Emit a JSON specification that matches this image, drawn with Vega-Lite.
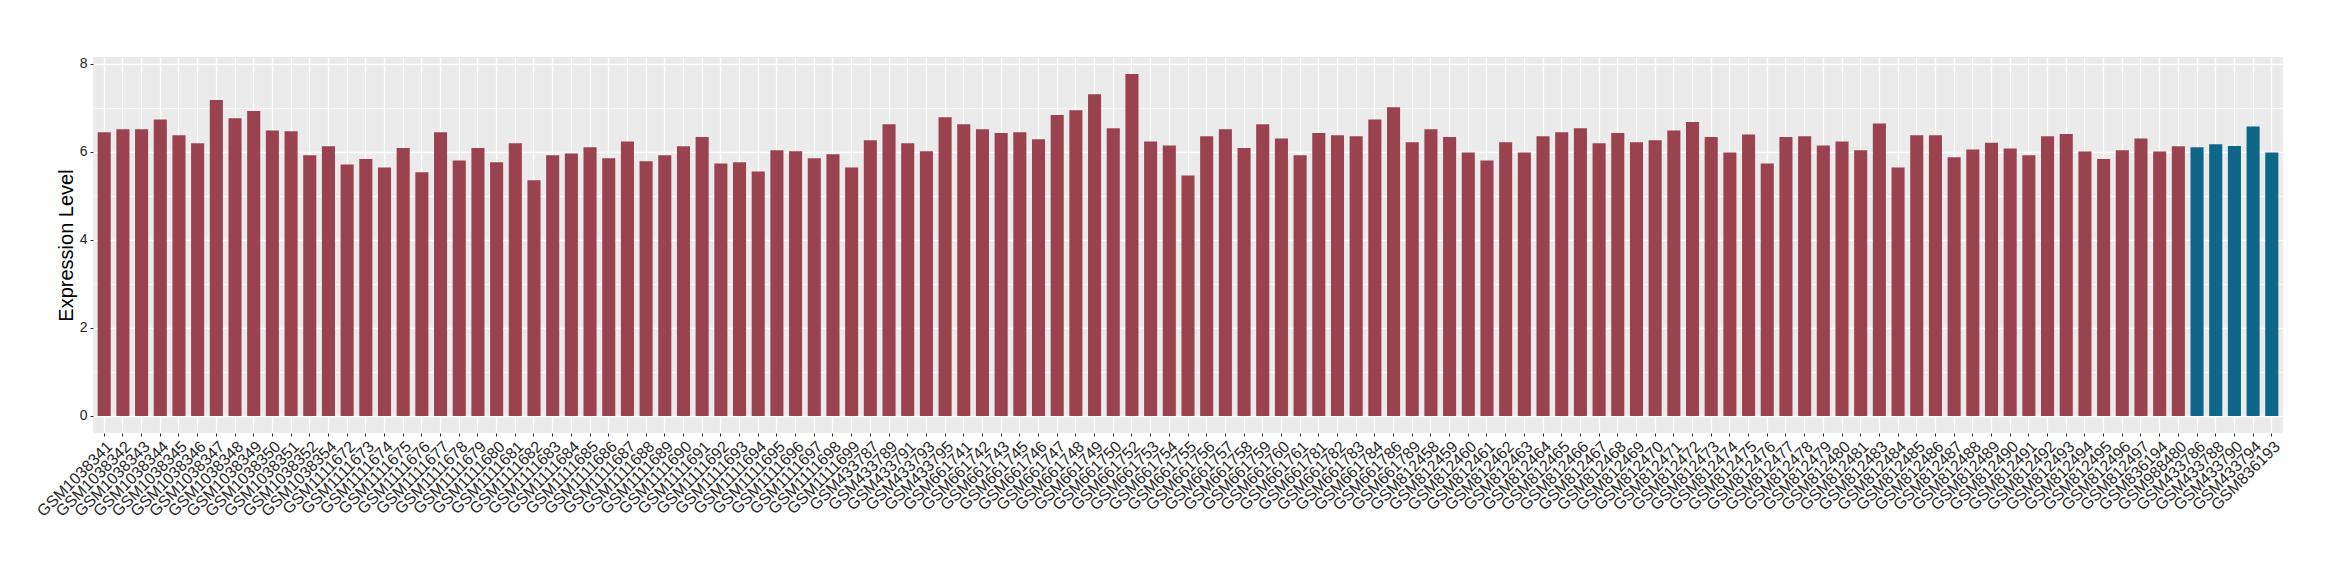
{
  "$schema": "https://vega.github.io/schema/vega-lite/v6.json",
  "autosize": {"type": "none"},
  "padding": {"left": 93, "top": 57, "right": 57, "bottom": 147},
  "width": 2190,
  "height": 376,
  "background": "white",
  "config": {
    "view": {"fill": "#EBEBEB", "stroke": null},
    "font": "Liberation Sans"
  },
  "data": {
    "values": [
      {"sample": "GSM1038341", "value": 6.44, "group": "Group 1"},
      {"sample": "GSM1038342", "value": 6.51, "group": "Group 1"},
      {"sample": "GSM1038343", "value": 6.51, "group": "Group 1"},
      {"sample": "GSM1038344", "value": 6.73, "group": "Group 1"},
      {"sample": "GSM1038345", "value": 6.37, "group": "Group 1"},
      {"sample": "GSM1038346", "value": 6.19, "group": "Group 1"},
      {"sample": "GSM1038347", "value": 7.17, "group": "Group 1"},
      {"sample": "GSM1038348", "value": 6.76, "group": "Group 1"},
      {"sample": "GSM1038349", "value": 6.92, "group": "Group 1"},
      {"sample": "GSM1038350", "value": 6.48, "group": "Group 1"},
      {"sample": "GSM1038351", "value": 6.46, "group": "Group 1"},
      {"sample": "GSM1038352", "value": 5.92, "group": "Group 1"},
      {"sample": "GSM1038354", "value": 6.12, "group": "Group 1"},
      {"sample": "GSM1111672", "value": 5.71, "group": "Group 1"},
      {"sample": "GSM1111673", "value": 5.83, "group": "Group 1"},
      {"sample": "GSM1111674", "value": 5.64, "group": "Group 1"},
      {"sample": "GSM1111675", "value": 6.08, "group": "Group 1"},
      {"sample": "GSM1111676", "value": 5.53, "group": "Group 1"},
      {"sample": "GSM1111677", "value": 6.44, "group": "Group 1"},
      {"sample": "GSM1111678", "value": 5.80, "group": "Group 1"},
      {"sample": "GSM1111679", "value": 6.08, "group": "Group 1"},
      {"sample": "GSM1111680", "value": 5.76, "group": "Group 1"},
      {"sample": "GSM1111681", "value": 6.19, "group": "Group 1"},
      {"sample": "GSM1111682", "value": 5.35, "group": "Group 1"},
      {"sample": "GSM1111683", "value": 5.92, "group": "Group 1"},
      {"sample": "GSM1111684", "value": 5.96, "group": "Group 1"},
      {"sample": "GSM1111685", "value": 6.10, "group": "Group 1"},
      {"sample": "GSM1111686", "value": 5.85, "group": "Group 1"},
      {"sample": "GSM1111687", "value": 6.23, "group": "Group 1"},
      {"sample": "GSM1111688", "value": 5.78, "group": "Group 1"},
      {"sample": "GSM1111689", "value": 5.92, "group": "Group 1"},
      {"sample": "GSM1111690", "value": 6.12, "group": "Group 1"},
      {"sample": "GSM1111691", "value": 6.33, "group": "Group 1"},
      {"sample": "GSM1111692", "value": 5.73, "group": "Group 1"},
      {"sample": "GSM1111693", "value": 5.76, "group": "Group 1"},
      {"sample": "GSM1111694", "value": 5.55, "group": "Group 1"},
      {"sample": "GSM1111695", "value": 6.03, "group": "Group 1"},
      {"sample": "GSM1111696", "value": 6.01, "group": "Group 1"},
      {"sample": "GSM1111697", "value": 5.85, "group": "Group 1"},
      {"sample": "GSM1111698", "value": 5.94, "group": "Group 1"},
      {"sample": "GSM1111699", "value": 5.64, "group": "Group 1"},
      {"sample": "GSM433787", "value": 6.26, "group": "Group 1"},
      {"sample": "GSM433789", "value": 6.62, "group": "Group 1"},
      {"sample": "GSM433791", "value": 6.19, "group": "Group 1"},
      {"sample": "GSM433793", "value": 6.01, "group": "Group 1"},
      {"sample": "GSM433795", "value": 6.78, "group": "Group 1"},
      {"sample": "GSM661741", "value": 6.62, "group": "Group 1"},
      {"sample": "GSM661742", "value": 6.51, "group": "Group 1"},
      {"sample": "GSM661743", "value": 6.42, "group": "Group 1"},
      {"sample": "GSM661745", "value": 6.44, "group": "Group 1"},
      {"sample": "GSM661746", "value": 6.28, "group": "Group 1"},
      {"sample": "GSM661747", "value": 6.83, "group": "Group 1"},
      {"sample": "GSM661748", "value": 6.94, "group": "Group 1"},
      {"sample": "GSM661749", "value": 7.30, "group": "Group 1"},
      {"sample": "GSM661750", "value": 6.53, "group": "Group 1"},
      {"sample": "GSM661752", "value": 7.76, "group": "Group 1"},
      {"sample": "GSM661753", "value": 6.23, "group": "Group 1"},
      {"sample": "GSM661754", "value": 6.14, "group": "Group 1"},
      {"sample": "GSM661755", "value": 5.46, "group": "Group 1"},
      {"sample": "GSM661756", "value": 6.35, "group": "Group 1"},
      {"sample": "GSM661757", "value": 6.51, "group": "Group 1"},
      {"sample": "GSM661758", "value": 6.08, "group": "Group 1"},
      {"sample": "GSM661759", "value": 6.62, "group": "Group 1"},
      {"sample": "GSM661760", "value": 6.30, "group": "Group 1"},
      {"sample": "GSM661761", "value": 5.92, "group": "Group 1"},
      {"sample": "GSM661781", "value": 6.42, "group": "Group 1"},
      {"sample": "GSM661782", "value": 6.37, "group": "Group 1"},
      {"sample": "GSM661783", "value": 6.35, "group": "Group 1"},
      {"sample": "GSM661784", "value": 6.73, "group": "Group 1"},
      {"sample": "GSM661786", "value": 7.01, "group": "Group 1"},
      {"sample": "GSM661789", "value": 6.21, "group": "Group 1"},
      {"sample": "GSM812458", "value": 6.51, "group": "Group 1"},
      {"sample": "GSM812459", "value": 6.33, "group": "Group 1"},
      {"sample": "GSM812460", "value": 5.98, "group": "Group 1"},
      {"sample": "GSM812461", "value": 5.80, "group": "Group 1"},
      {"sample": "GSM812462", "value": 6.21, "group": "Group 1"},
      {"sample": "GSM812463", "value": 5.98, "group": "Group 1"},
      {"sample": "GSM812464", "value": 6.35, "group": "Group 1"},
      {"sample": "GSM812465", "value": 6.44, "group": "Group 1"},
      {"sample": "GSM812466", "value": 6.53, "group": "Group 1"},
      {"sample": "GSM812467", "value": 6.19, "group": "Group 1"},
      {"sample": "GSM812468", "value": 6.42, "group": "Group 1"},
      {"sample": "GSM812469", "value": 6.21, "group": "Group 1"},
      {"sample": "GSM812470", "value": 6.26, "group": "Group 1"},
      {"sample": "GSM812471", "value": 6.48, "group": "Group 1"},
      {"sample": "GSM812472", "value": 6.67, "group": "Group 1"},
      {"sample": "GSM812473", "value": 6.33, "group": "Group 1"},
      {"sample": "GSM812474", "value": 5.98, "group": "Group 1"},
      {"sample": "GSM812475", "value": 6.39, "group": "Group 1"},
      {"sample": "GSM812476", "value": 5.73, "group": "Group 1"},
      {"sample": "GSM812477", "value": 6.33, "group": "Group 1"},
      {"sample": "GSM812478", "value": 6.35, "group": "Group 1"},
      {"sample": "GSM812479", "value": 6.14, "group": "Group 1"},
      {"sample": "GSM812480", "value": 6.23, "group": "Group 1"},
      {"sample": "GSM812481", "value": 6.03, "group": "Group 1"},
      {"sample": "GSM812483", "value": 6.64, "group": "Group 1"},
      {"sample": "GSM812484", "value": 5.64, "group": "Group 1"},
      {"sample": "GSM812485", "value": 6.37, "group": "Group 1"},
      {"sample": "GSM812486", "value": 6.37, "group": "Group 1"},
      {"sample": "GSM812487", "value": 5.87, "group": "Group 1"},
      {"sample": "GSM812488", "value": 6.05, "group": "Group 1"},
      {"sample": "GSM812489", "value": 6.20, "group": "Group 1"},
      {"sample": "GSM812490", "value": 6.07, "group": "Group 1"},
      {"sample": "GSM812491", "value": 5.92, "group": "Group 1"},
      {"sample": "GSM812492", "value": 6.35, "group": "Group 1"},
      {"sample": "GSM812493", "value": 6.40, "group": "Group 1"},
      {"sample": "GSM812494", "value": 6.00, "group": "Group 1"},
      {"sample": "GSM812495", "value": 5.83, "group": "Group 1"},
      {"sample": "GSM812496", "value": 6.03, "group": "Group 1"},
      {"sample": "GSM812497", "value": 6.30, "group": "Group 1"},
      {"sample": "GSM836194", "value": 6.00, "group": "Group 1"},
      {"sample": "GSM988480", "value": 6.12, "group": "Group 1"},
      {"sample": "GSM433786", "value": 6.10, "group": "Group 2"},
      {"sample": "GSM433788", "value": 6.17, "group": "Group 2"},
      {"sample": "GSM433790", "value": 6.13, "group": "Group 2"},
      {"sample": "GSM433794", "value": 6.57, "group": "Group 2"},
      {"sample": "GSM836193", "value": 5.98, "group": "Group 2"}
    ]
  },
  "mark": {"type": "bar"},
  "encoding": {
    "x": {
      "field": "sample",
      "type": "nominal",
      "sort": null,
      "scale": {"paddingInner": 0.3, "paddingOuter": 0.25},
      "axis": {
        "title": null,
        "domain": false,
        "grid": true,
        "gridColor": "white",
        "gridWidth": 1.3,
        "bandPosition": 0.5,
        "tickColor": "#333333",
        "tickSize": 3,
        "tickWidth": 1,
        "labelAngle": -45,
        "labelAlign": "right",
        "labelBaseline": "top",
        "labelFont": "Liberation Sans",
        "labelFontSize": 16,
        "labelColor": "#262626",
        "labelPadding": 2,
        "labelOverlap": false,
        "labelLimit": 0
      }
    },
    "y": {
      "field": "value",
      "type": "quantitative",
      "scale": {"domain": [-0.388, 8.148], "nice": false, "zero": false},
      "axis": {
        "title": "Expression Level",
        "titleFont": "Liberation Sans",
        "titleFontSize": 20,
        "titleFontWeight": "normal",
        "titleColor": "black",
        "titlePadding": 3,
        "values": [0, 1, 2, 3, 4, 5, 6, 7, 8],
        "labelExpr": "datum.value % 2 === 0 ? datum.label : ''",
        "domain": false,
        "grid": true,
        "gridColor": "white",
        "gridWidth": {"condition": {"test": "datum.value % 2 === 1", "value": 0.7}, "value": 1.4},
        "tickColor": "#333333",
        "tickOpacity": {"condition": {"test": "datum.value % 2 === 1", "value": 0}, "value": 1},
        "tickSize": 3,
        "tickWidth": 1,
        "labelFont": "Liberation Sans",
        "labelFontSize": 14,
        "labelColor": "#262626",
        "labelPadding": 3
      }
    },
    "y2": {"datum": 0},
    "color": {
      "field": "group",
      "type": "nominal",
      "scale": {"domain": ["Group 1", "Group 2"], "range": ["#9B4250", "#0E6689"]},
      "legend": null
    }
  }
}
